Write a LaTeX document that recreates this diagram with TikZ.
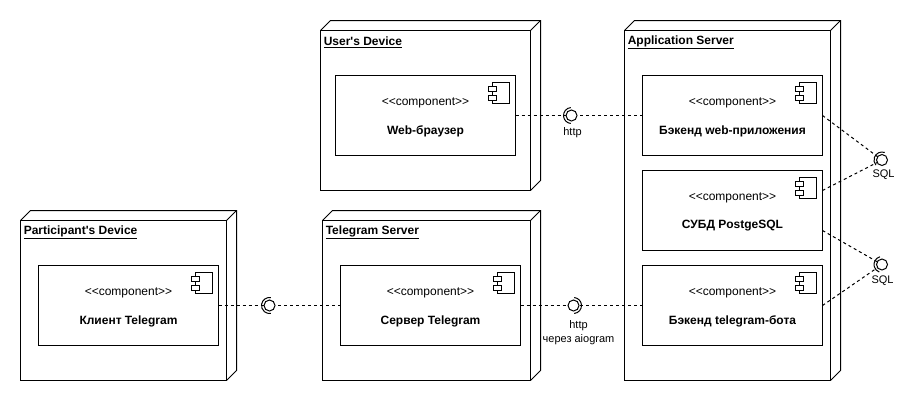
\documentclass[tikz,border=0pt]{standalone}
\usepackage{fontspec}
\newfontfamily\labfont{Liberation Sans}
\tikzset{
  x=1pt,y=1pt,
  frontface/.style={draw=black,fill=white,rectangle,anchor=north west,inner sep=0pt,outer sep=0pt},
  compbox/.style={draw=black,fill=white,rectangle,anchor=north west,inner sep=0pt,outer sep=0pt},
  titletext/.style={anchor=west,inner sep=0pt,font=\labfont\fontsize{12}{14}\selectfont\bfseries},
  stereotext/.style={anchor=center,inner sep=0pt,font=\labfont\fontsize{12}{14}\selectfont},
  nametext/.style={anchor=center,inner sep=0pt,font=\labfont\fontsize{12}{14}\selectfont\bfseries},
  smalltext/.style={anchor=center,inner sep=0pt,font=\labfont\fontsize{11}{13}\selectfont},
  ball/.style={draw=black,circle,fill=white,minimum size=11pt,inner sep=0pt,outer sep=0pt},
  conn/.style={draw=black,dash pattern=on 3pt off 3pt,line width=1pt},
  socket/.style={draw=black,line width=1pt}
}
% name, x, y (top-left of front face, y positive down), width, height, title
\newcommand{\devbox}[6]{%
  \node[frontface,minimum width=#4pt,minimum height=#5pt] (#1) at (#2,-#3) {};
  \draw ($(#1.north west)$) -- ++(10,10) -- ++(#4,0) -- ++(0,-#5) -- ++(-10,-10);
  \draw (#1.north east) -- ++(10,10);
  \node[titletext] (#1-title) at ($(#1.north west)+(2.8,-11.5)$) {\underline{#6}};
}
% name, x, y, height, name text
\newcommand{\compbox}[5]{%
  \node[compbox,minimum width=180pt,minimum height=#4pt] (#1) at (#2,-#3) {};
  \draw ($(#1.north east)+(-23.5,-7)$) rectangle ($(#1.north east)+(-6.5,-27.5)$);
  \draw[fill=white] ($(#1.north east)+(-27.5,-10.5)$) rectangle ($(#1.north east)+(-19.5,-15.5)$);
  \draw[fill=white] ($(#1.north east)+(-27.5,-19.5)$) rectangle ($(#1.north east)+(-19.5,-24.5)$);
  \node[stereotext] (#1-st) at ($(#1.north)+(0,-27)$) {<<component>>};
  \node[nametext] (#1-nm) at ($(#1.north)+(0,-55.5)$) {#5};
}
% ball name, x, y, start, end
\newcommand{\lolly}[5]{%
  \node[ball] (#1) at (#2,-#3) {};
  \draw[socket] (#1.center) ++(#4:8) arc[start angle=#4,end angle=#5,radius=8];
}
\usetikzlibrary{calc}
\begin{document}
\begin{tikzpicture}[line width=1pt]
\useasboundingbox (0,0) rectangle (916,-402);
\fill[white] (0,0) rectangle (916,-402);

\devbox{user}{320.5}{30.5}{210}{160}{User's Device}
\devbox{app}{624.5}{30.5}{206}{350}{Application Server}
\devbox{tg}{322.5}{220.5}{208}{160}{Telegram Server}
\devbox{part}{20.5}{220.5}{206}{160}{Participant's Device}

\compbox{web}{335.5}{75.5}{80}{Web-браузер}
\compbox{back}{642.5}{75.5}{80}{Бэкенд web-приложения}
\compbox{dbms}{642.5}{170.5}{80}{СУБД PostgeSQL}
\compbox{bot}{642.5}{265.5}{80}{Бэкенд telegram-бота}
\compbox{tgs}{340.5}{265.5}{80}{Сервер Telegram}
\compbox{cli}{38.5}{265.5}{80}{Клиент Telegram}

\coordinate (dbmsU) at ($(dbms.east)+(0,20)$);
\coordinate (dbmsL) at ($(dbms.east)+(0,-20)$);

\lolly{b1}{571.5}{115.5}{95}{265}
\lolly{b2}{573.5}{305.5}{-85}{85}
\lolly{b3}{269.5}{305.5}{80}{280}
\lolly{s1}{882}{160}{70}{220}
\lolly{s2}{882}{264.5}{105}{250}

\draw[conn] (web.east) -- (b1);
\draw[conn] (back.west) -- (b1);
\draw[conn] (cli.east) -- (b3);
\draw[conn] (tgs.west) -- (b3);
\draw[conn] (tgs.east) -- (b2);
\draw[conn] (bot.west) -- (b2);
\draw[conn] (back.east) -- (s1);
\draw[conn] (dbmsU) -- (s1);
\draw[conn] (dbmsL) -- (s2);
\draw[conn] (bot.east) -- (s2);

\node[smalltext] (l1) at (572.5,-132.5) {http};
\node[smalltext] (l2) at (578.5,-326) {http};
\node[smalltext] (l3) at (578.5,-339.5) {через aiogram};
\node[smalltext] (l4) at (883.5,-175) {SQL};
\node[smalltext] (l5) at (882.5,-281) {SQL};
\end{tikzpicture}
\end{document}
